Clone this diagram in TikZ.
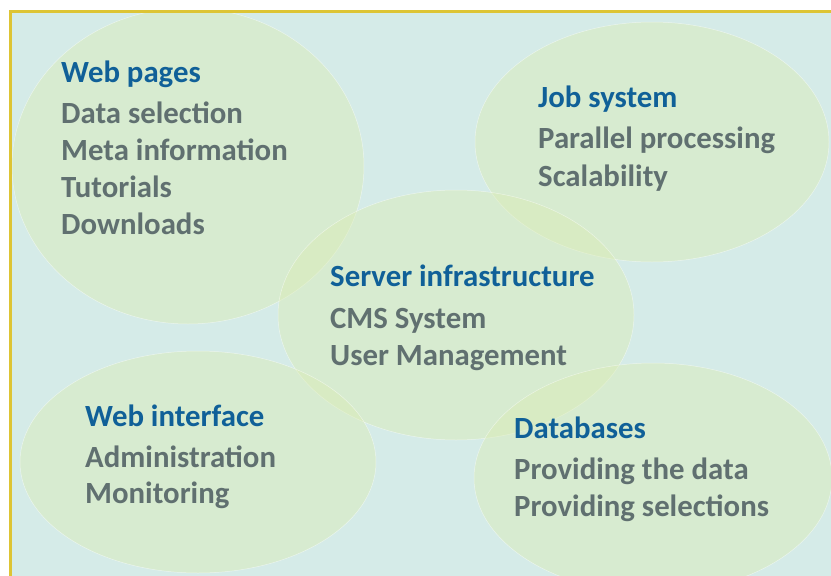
\documentclass[tikz,border=0pt]{standalone}
\usepackage{fontspec}
\setmainfont{Carlito}
\definecolor{bgc}{RGB}{213,235,232}
\definecolor{ellc}{RGB}{219,236,180}
\definecolor{bordc}{RGB}{221,196,52}
\definecolor{titlec}{RGB}{16,96,152}
\definecolor{itemc}{RGB}{96,112,112}
\tikzset{
  blob/.style={fill=ellc, fill opacity=0.45, draw=white, draw opacity=0.5, line width=0.5pt},
  ttl/.style={anchor=base west, inner sep=0pt, text=titlec, font=\fontsize{30.8}{34}\selectfont\bfseries},
  itm/.style={anchor=base west, inner sep=0pt, text=itemc, font=\fontsize{30.8}{34}\selectfont\bfseries}
}
\begin{document}
\begin{tikzpicture}[x=1pt,y=-1pt]
\useasboundingbox (0,0) rectangle (831,576);
\fill[white] (0,0) rectangle (831,576);
\fill[bgc] (10.5,11.5) rectangle (831,576);
\begin{scope}
\clip (10.5,11.5) rectangle (831,576);
\path[blob] (188,166) ellipse [x radius=176, y radius=158];
\path[blob] (652,142) ellipse [x radius=177, y radius=120];
\path[blob] (456,315) ellipse [x radius=178, y radius=125];
\path[blob] (198,462) ellipse [x radius=178, y radius=111];
\path[blob] (653,478) ellipse [x radius=179, y radius=115];
\end{scope}
\draw[bordc, line width=3pt] (10.5,576) -- (10.5,11.5) -- (831,11.5);
% Web pages
\node[ttl] (wp) at (61,82) {Web pages};
\node[itm] (wp1) at (61,123) {Data selection};
\node[itm] (wp2) at (61,160) {Meta information};
\node[itm] (wp3) at (61,197) {Tutorials};
\node[itm] (wp4) at (61,234) {Downloads};
% Job system
\node[ttl] (js) at (538,107) {Job system};
\node[itm] (js1) at (538,148) {Parallel processing};
\node[itm] (js2) at (538,186) {Scalability};
% Server
\node[ttl] (si) at (330,286) {Server infrastructure};
\node[itm] (si1) at (330,328) {CMS System};
\node[itm] (si2) at (330,365) {User Management};
% Web interface
\node[ttl] (wi) at (85,426) {Web interface};
\node[itm] (wi1) at (85,467) {Administration};
\node[itm] (wi2) at (85,503) {Monitoring};
% Databases
\node[ttl] (db) at (514,438) {Databases};
\node[itm] (db1) at (514,479) {Providing the data};
\node[itm] (db2) at (514,516) {Providing selections};
\end{tikzpicture}
\end{document}
